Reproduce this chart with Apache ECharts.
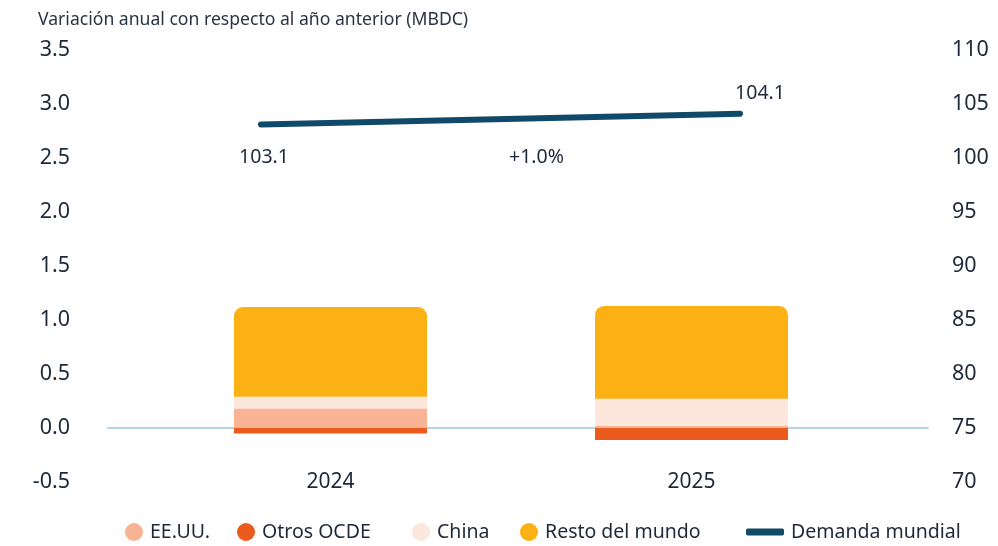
<!DOCTYPE html>
<html>
<head>
<meta charset="utf-8">
<script src="https://cdn.jsdelivr.net/npm/echarts@6/dist/echarts.min.js"></script>
<style>html,body{margin:0;padding:0;background:#fff}#c{width:998px;height:546px}</style>
</head>
<body>
<div id="c"></div>
<script>
const categories = ['2024', '2025'];
const eeuu = [0.18, 0.02];
const otrosOcde = [-0.05, -0.11];
const china = [0.11, 0.25];
const resto = [0.83, 0.86];
const demanda = [103.1, 104.1];
const variacionTexto = '+1.0%';
const titulo = 'Variación anual con respecto al año anterior (MBDC)';
const legendNames = ['EE.UU.', 'Otros OCDE', 'China', 'Resto del mundo', 'Demanda mundial'];

const FONT = '"Noto Sans", sans-serif';
const TXT = '#1d2939';
const chart = echarts.init(document.getElementById('c'));

const legendLefts = [125, 237, 412, 520, 746];
const legends = legendNames.map((n, i) => i < 4
  ? { data: [n], icon: 'circle', left: legendLefts[i], top: 522, padding: 0, itemWidth: 18, itemHeight: 18, itemGap: 0,
      textStyle: { fontSize: 19.5, color: TXT, fontFamily: FONT, padding: [0, 0, 0, 2] } }
  : { data: [n], icon: 'roundRect', left: legendLefts[i], top: 522, padding: 0, itemWidth: 38, itemHeight: 7,
      textStyle: { fontSize: 19.5, color: TXT, fontFamily: FONT, padding: [0, 0, 0, 2] } });

chart.setOption({
  animation: false,
  textStyle: { fontFamily: FONT },
  title: { text: titulo, left: 33, top: 6, textStyle: { fontSize: 17.6, fontWeight: 'normal', color: '#2a3342', fontFamily: FONT } },
  grid: [
    { left: 108, right: 70, top: 50, bottom: 64 },
    { left: 150, right: 126, top: 50, bottom: 64 },
    { left: 261, right: 258, top: 50, bottom: 64 }
  ],
  xAxis: [
    { gridIndex: 0, type: 'category', data: categories, axisLabel: { show: false }, axisTick: { show: false },
      axisLine: { show: true, onZero: true, onZeroAxisIndex: 0, lineStyle: { color: '#b4d3e4', width: 2 } } },
    { gridIndex: 1, type: 'category', data: categories, axisTick: { show: false }, axisLine: { show: false, onZero: false },
      axisLabel: { margin: -10, fontSize: 21, color: TXT, fontFamily: FONT } },
    { gridIndex: 2, type: 'category', data: categories, boundaryGap: false, show: false }
  ],
  yAxis: [
    { gridIndex: 0, type: 'value', min: -0.5, max: 3.5, interval: 0.5, position: 'left',
      splitLine: { show: false }, axisLine: { show: false }, axisTick: { show: false },
      axisLabel: { margin: 38, fontSize: 21.5, color: TXT, fontFamily: FONT, formatter: v => v.toFixed(1) } },
    { gridIndex: 0, type: 'value', min: 70, max: 110, interval: 5, position: 'right',
      splitLine: { show: false }, axisLine: { show: false }, axisTick: { show: false },
      axisLabel: { margin: 24, fontSize: 21.5, color: TXT, fontFamily: FONT, align: 'left' } },
    { gridIndex: 1, type: 'value', min: -0.5, max: 3.5, interval: 0.5, show: false },
    { gridIndex: 2, type: 'value', min: 70, max: 110, interval: 5, show: false }
  ],
  legend: legends,
  series: [
    { name: 'EE.UU.', type: 'bar', stack: 's', xAxisIndex: 1, yAxisIndex: 2, barWidth: 193, data: eeuu, itemStyle: { color: '#f7b394' } },
    { name: 'Otros OCDE', type: 'bar', stack: 's', xAxisIndex: 1, yAxisIndex: 2, barWidth: 193, data: otrosOcde, itemStyle: { color: '#eb5b1e' } },
    { name: 'China', type: 'bar', stack: 's', xAxisIndex: 1, yAxisIndex: 2, barWidth: 193, data: china, itemStyle: { color: '#fde6dc' } },
    { name: 'Resto del mundo', type: 'bar', stack: 's', xAxisIndex: 1, yAxisIndex: 2, barWidth: 193, data: resto, itemStyle: { color: '#fbb113', borderRadius: [9, 9, 0, 0] } },
    { name: 'Demanda mundial', type: 'line', xAxisIndex: 2, yAxisIndex: 3, z: 5, symbol: 'circle', symbolSize: 0.1, showSymbol: true,
      lineStyle: { color: '#114a68', width: 6, cap: 'round' }, itemStyle: { color: '#114a68' },
      data: demanda.map((v, i) => ({
        value: v,
        label: i === 0
          ? { show: true, position: 'bottom', distance: 23, offset: [3, 0] }
          : { show: true, position: 'top', distance: 10, offset: [20, 0] }
      })),
      label: { show: true, fontSize: 19.5, color: TXT, fontFamily: FONT, formatter: p => p.value.toFixed(1) }
    }
  ],
  graphic: [
    { type: 'text', left: 509, top: 147, style: { text: variacionTexto, fontSize: 19.5, fill: TXT, fontFamily: FONT } }
  ]
});
</script>
</body>
</html>
